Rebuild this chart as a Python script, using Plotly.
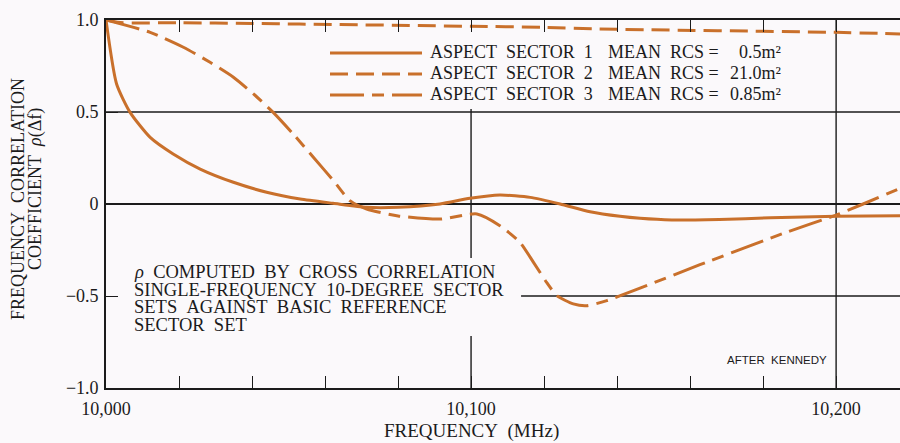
import plotly.graph_objects as go

# ---- data -------------------------------------------------------------
FREQ_RANGE = [10000, 10217.5]

# Aspect sector 1 (solid)
s1_freq = [10000, 10002.9, 10006.6, 10012.1, 10018.4, 10025.8, 10034.9, 10044,
           10053.2, 10062.2, 10071.4, 10080, 10091.5, 10099.7, 10107.9, 10116.2,
           10124.4, 10132.6, 10140.8, 10146.3, 10155, 10168, 10182, 10200, 10217.5]
s1_rho = [1.0, 0.652, 0.498, 0.362, 0.272, 0.19, 0.118, 0.064,
          0.027, 0.004, -0.018, -0.018, 0.0, 0.031, 0.049, 0.036,
          0.0, -0.042, -0.067, -0.078, -0.087, -0.084, -0.075, -0.066, -0.064]

# Aspect sector 2 (short dashes)
s2_freq = [10000, 10004, 10020, 10040, 10053, 10100, 10120, 10135, 10200, 10217.5]
s2_rho = [1.0, 0.986, 0.985, 0.981, 0.978, 0.966, 0.96, 0.951, 0.933, 0.924]

# Aspect sector 3 (long-short dashes)
s3_freq = [10000, 10012.1, 10021.2, 10028.5, 10034.9, 10040.4, 10045.8, 10051.3,
           10056.8, 10062.3, 10066.8, 10071.4, 10080, 10091.5, 10101.6, 10107.9,
           10113.4, 10117.1, 10120.7, 10123.5, 10128, 10131.7, 10137.2, 10144.5,
           10162.7, 10186.6, 10200, 10207.4, 10217.5]
s3_rho = [1.0, 0.933, 0.852, 0.77, 0.689, 0.598, 0.498, 0.38,
          0.254, 0.127, 0.018, -0.027, -0.065, -0.082, -0.054, -0.118,
          -0.208, -0.317, -0.426, -0.498, -0.543, -0.553, -0.525, -0.471,
          -0.33, -0.152, -0.06, 0.0, 0.085]

legend_names = ["ASPECT\u00a0\u00a0SECTOR\u00a0\u00a01",
                "ASPECT\u00a0\u00a0SECTOR\u00a0\u00a02",
                "ASPECT\u00a0\u00a0SECTOR\u00a0\u00a03"]
legend_rcs = ["0.5m²", "21.0m²", "0.85m²"]

x_tick_vals = [10000, 10100, 10200]
x_tick_text = ["10,000", "10,100", "10,200"]
x_minor_vals = [10000 + 20 * i for i in range(11)]
y_tick_vals = [-1.0, -0.5, 0.0, 0.5, 1.0]
y_tick_text = ["\u22121.0", "\u22120.5", "0", "0.5", "1.0"]

note_lines = ["<i>\u03c1</i>\u00a0\u00a0COMPUTED\u00a0\u00a0BY\u00a0\u00a0CROSS\u00a0\u00a0CORRELATION",
              "SINGLE-FREQUENCY\u00a0\u00a010-DEGREE\u00a0\u00a0SECTOR",
              "SETS\u00a0\u00a0AGAINST\u00a0\u00a0BASIC\u00a0\u00a0REFERENCE",
              "SECTOR\u00a0\u00a0SET"]

# ---- style ------------------------------------------------------------
W, H = 900, 443
ML, MR, MT, MB = 106, 0, 20, 55
PW, PH = W - ML - MR, H - MT - MB
ORANGE = "#C9702B"
INK = "#1b1b1b"
BG = "#FBF9FB"
SERIF = "Liberation Serif, Times New Roman, serif"
SANS = "Liberation Sans, Arial, sans-serif"
dashes = ["solid", "18px,8px", "34px,8px,12px,8px"]


def px_x(p):
    return (p - ML) / PW


def px_y(p):
    return (H - MB - p) / PH


fig = go.Figure()
for fx, ry, d in [(s1_freq, s1_rho, dashes[0]),
                  (s2_freq, s2_rho, dashes[1]),
                  (s3_freq, s3_rho, dashes[2])]:
    fig.add_trace(go.Scatter(x=fx, y=ry, mode="lines",
                             line=dict(color=ORANGE, width=3, dash=d,
                                       shape="spline", smoothing=0.6),
                             showlegend=False, hoverinfo="skip"))

shapes = []
grid = dict(color=INK, width=1.4)
# horizontal reference lines
shapes.append(dict(type="line", xref="x", yref="y", x0=FREQ_RANGE[0], x1=FREQ_RANGE[1],
                   y0=0.5, y1=0.5, line=grid, layer="below"))
shapes.append(dict(type="line", xref="x", yref="y", x0=FREQ_RANGE[0], x1=FREQ_RANGE[1],
                   y0=0, y1=0, line=dict(color=INK, width=2), layer="below"))
shapes.append(dict(type="line", xref="x", yref="y", x0=10113.7, x1=FREQ_RANGE[1],
                   y0=-0.5, y1=-0.5, line=grid, layer="below"))
# vertical reference lines (broken around the text)
shapes.append(dict(type="line", xref="x", yref="y", x0=10200, x1=10200,
                   y0=-1, y1=1, line=grid, layer="below"))
for a, b in [(0.516, -0.293), (-0.717, -1.0)]:
    shapes.append(dict(type="line", xref="x", yref="y", x0=10100, x1=10100,
                       y0=a, y1=b, line=grid, layer="below"))

# legend samples
legend_rows = [53, 74, 95]
for yy, d in zip(legend_rows, dashes):
    shapes.append(dict(type="line", xref="paper", yref="paper",
                       x0=px_x(330), x1=px_x(422), y0=px_y(yy), y1=px_y(yy),
                       line=dict(color=ORANGE, width=3.2, dash=d)))

annotations = []
text_font = dict(family=SERIF, size=18, color=INK)
for yy, name, rcs in zip(legend_rows, legend_names, legend_rcs):
    annotations.append(dict(xref="paper", yref="paper", x=px_x(428), y=px_y(yy - 1),
                            text=name, showarrow=False, xanchor="left",
                            yanchor="middle", font=text_font))
    annotations.append(dict(xref="paper", yref="paper", x=px_x(606), y=px_y(yy - 1),
                            text="MEAN\u00a0\u00a0RCS\u00a0=", showarrow=False,
                            xanchor="left", yanchor="middle", font=text_font))
    annotations.append(dict(xref="paper", yref="paper", x=px_x(783), y=px_y(yy - 1),
                            text=rcs, showarrow=False, xanchor="right",
                            yanchor="middle", font=text_font))

note_font = dict(family=SERIF, size=18.5, color=INK)
for yy, line in zip([272, 289.5, 307, 324.5], note_lines):
    annotations.append(dict(xref="paper", yref="paper", x=px_x(132), y=px_y(yy),
                            text=line, showarrow=False, xanchor="left",
                            yanchor="middle", font=note_font))

annotations.append(dict(xref="paper", yref="paper", x=px_x(829), y=px_y(360),
                        text="AFTER\u00a0\u00a0KENNEDY", showarrow=False,
                        xanchor="right", yanchor="middle",
                        font=dict(family=SANS, size=11.5, color=INK)))

# axis titles
annotations.append(dict(xref="paper", yref="paper", x=px_x(471), y=px_y(431),
                        text="FREQUENCY\u00a0\u00a0(MHz)", showarrow=False,
                        xanchor="center", yanchor="middle",
                        font=dict(family=SERIF, size=19, color=INK)))
annotations.append(dict(xref="paper", yref="paper", x=px_x(18), y=px_y(199),
                        text="FREQUENCY\u00a0\u00a0CORRELATION", showarrow=False,
                        textangle=-90, xanchor="center", yanchor="middle",
                        font=text_font))
annotations.append(dict(xref="paper", yref="paper", x=px_x(35), y=px_y(189),
                        text="COEFFICIENT\u00a0\u00a0<i>\u03c1</i>(\u0394f)", showarrow=False,
                        textangle=-90, xanchor="center", yanchor="middle",
                        font=text_font))

fig.update_layout(
    width=W, height=H,
    margin=dict(l=ML, r=MR, t=MT, b=MB, pad=0),
    paper_bgcolor=BG, plot_bgcolor=BG,
    shapes=shapes, annotations=annotations,
    showlegend=False,
    xaxis=dict(range=FREQ_RANGE, showgrid=False, zeroline=False,
               showline=True, linecolor=INK, linewidth=1.6, mirror="ticks",
               ticks="inside", ticklen=12, tickwidth=1.3, tickcolor=INK,
               tickvals=x_tick_vals, ticktext=x_tick_text,
               tickfont=dict(family=SERIF, size=18, color=INK),
               ticklabelstandoff=4,
               minor=dict(tickvals=x_minor_vals, ticks="inside", ticklen=12,
                          tickwidth=1.3, tickcolor=INK)),
    yaxis=dict(range=[-1, 1], showgrid=False, zeroline=False,
               showline=True, linecolor=INK, linewidth=1.6,
               ticks="inside", ticklen=12, tickwidth=1.3, tickcolor=INK,
               tickvals=y_tick_vals, ticktext=y_tick_text,
               tickfont=dict(family=SERIF, size=18, color=INK),
               ticklabelstandoff=2),
)

fig.write_html("out.html")
